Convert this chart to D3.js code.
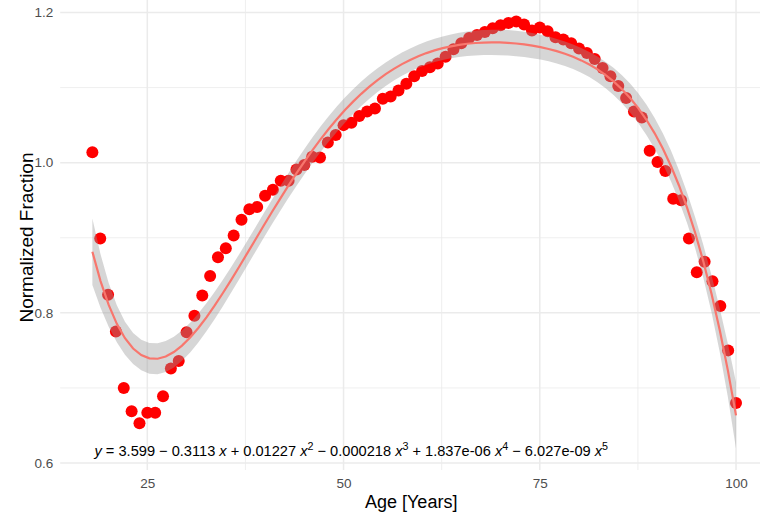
<!DOCTYPE html>
<html>
<head>
<meta charset="utf-8">
<script src="https://cdn.jsdelivr.net/npm/d3@7"></script>
<style>
  html, body { margin: 0; padding: 0; background: #ffffff; }
  svg { display: block; }
  text { font-family: "Liberation Sans", Arial, sans-serif; }
</style>
</head>
<body>
<svg id="chart" width="760" height="513"></svg>
<script>
// ---------------- data ----------------
const ages = [18,19,20,21,22,23,24,25,26,27,28,29,30,31,32,33,34,35,36,37,38,39,
  40,41,42,43,44,45,46,47,48,49,50,51,52,53,54,55,56,57,58,59,
  60,61,62,63,64,65,66,67,68,69,70,71,72,73,74,75,76,77,78,79,
  80,81,82,83,84,85,86,87,88,89,90,91,92,93,94,95,96,97,98,99,100];
const fraction = [1.014,0.899,0.824,0.775,0.700,0.669,0.653,0.667,0.667,0.689,0.726,0.736,
  0.774,0.796,0.823,0.849,0.874,0.886,0.903,0.924,0.938,0.941,
  0.956,0.964,0.976,0.976,0.991,0.997,1.008,1.007,1.027,1.037,
  1.050,1.053,1.062,1.068,1.072,1.085,1.088,1.096,1.105,1.115,
  1.122,1.127,1.132,1.141,1.151,1.159,1.166,1.170,1.174,1.179,
  1.183,1.186,1.188,1.184,1.176,1.180,1.175,1.167,1.164,1.159,
  1.152,1.146,1.138,1.126,1.115,1.102,1.086,1.068,1.060,
  1.016,1.001,0.989,0.952,0.950,0.899,0.854,0.868,0.842,0.809,0.750,0.680];
const xMajorTicks = [25, 50, 75, 100];
const xMinorTicks = [37.5, 62.5, 87.5];
const yMajorTicks = [0.6, 0.8, 1.0, 1.2];
const yMinorTicks = [0.7, 0.9, 1.1];
const yTickLabels = ["0.6", "0.8", "1.0", "1.2"];
const xTitle = "Age [Years]";
const yTitle = "Normalized Fraction";
// equation pieces: [text, italic, superscript]
const equationParts = [
  ["y", true, false], [" = 3.599 \u2212 0.3113 ", false, false], ["x", true, false],
  [" + 0.01227 ", false, false], ["x", true, false], ["2", false, true],
  [" \u2212 0.000218 ", false, false], ["x", true, false], ["3", false, true],
  [" + 1.837e-06 ", false, false], ["x", true, false], ["4", false, true],
  [" \u2212 6.027e-09 ", false, false], ["x", true, false], ["5", false, true]
];

// ---------------- layout ----------------
const W = 760, H = 513;
const panel = { left: 60.2, right: 768.2, top: 0, bottom: 470 };
const x = d3.scaleLinear().domain([13.9, 104.1]).range([panel.left, panel.right]);
const y = d3.scaleLinear().domain([0.6, 1.2]).range([463, 12.5]);

const svg = d3.select("#chart");
svg.append("defs").append("clipPath").attr("id", "clip")
  .append("rect").attr("x", panel.left).attr("y", panel.top)
  .attr("width", panel.right - panel.left).attr("height", panel.bottom - panel.top);

// grid
const grid = svg.append("g");
grid.selectAll(".ymin").data(yMinorTicks).join("line")
  .attr("x1", panel.left).attr("x2", panel.right).attr("y1", d => y(d)).attr("y2", d => y(d))
  .attr("stroke", "#EBEBEB").attr("stroke-width", 0.8);
grid.selectAll(".xmin").data(xMinorTicks).join("line")
  .attr("y1", panel.top).attr("y2", panel.bottom).attr("x1", d => x(d)).attr("x2", d => x(d))
  .attr("stroke", "#EBEBEB").attr("stroke-width", 0.8);
grid.selectAll(".ymaj").data(yMajorTicks).join("line")
  .attr("x1", panel.left).attr("x2", panel.right).attr("y1", d => y(d)).attr("y2", d => y(d))
  .attr("stroke", "#EBEBEB").attr("stroke-width", 1.5);
grid.selectAll(".xmaj").data(xMajorTicks).join("line")
  .attr("y1", panel.top).attr("y2", panel.bottom).attr("x1", d => x(d)).attr("x2", d => x(d))
  .attr("stroke", "#EBEBEB").attr("stroke-width", 1.5);

// ---------------- polynomial fit (degree 5, like lm(y ~ poly(x,5))) ----------------
const P = 6, xc = 59, xsc = 41;
const basis = a => { const t = (a - xc) / xsc; return [1, t, t*t, t**3, t**4, t**5]; };
const XtX = Array.from({length: P}, () => new Array(P).fill(0));
const Xty = new Array(P).fill(0);
ages.forEach((a, i) => {
  const r = basis(a);
  for (let j = 0; j < P; j++) {
    Xty[j] += r[j] * fraction[i];
    for (let k = 0; k < P; k++) XtX[j][k] += r[j] * r[k];
  }
});
function invert(M) {
  const n = M.length;
  const A = M.map((row, i) => row.concat(Array.from({length: n}, (_, j) => i === j ? 1 : 0)));
  for (let c = 0; c < n; c++) {
    let piv = c;
    for (let r = c + 1; r < n; r++) if (Math.abs(A[r][c]) > Math.abs(A[piv][c])) piv = r;
    [A[c], A[piv]] = [A[piv], A[c]];
    const pv = A[c][c];
    for (let k = 0; k < 2 * n; k++) A[c][k] /= pv;
    for (let r = 0; r < n; r++) if (r !== c) {
      const f = A[r][c];
      for (let k = 0; k < 2 * n; k++) A[r][k] -= f * A[c][k];
    }
  }
  return A.map(row => row.slice(n));
}
const inv = invert(XtX);
const beta = inv.map(row => row.reduce((s, v, k) => s + v * Xty[k], 0));
const predict = a => basis(a).reduce((s, v, k) => s + v * beta[k], 0);
let sse = 0;
ages.forEach((a, i) => { const e = fraction[i] - predict(a); sse += e * e; });
const sigma = Math.sqrt(sse / (ages.length - P));
const tq = 1.9913; // qt(0.975, 77)
const fitGrid = d3.range(0, 80).map(i => 18 + i * (100 - 18) / 79);
const fitData = fitGrid.map(a => {
  const r = basis(a);
  let q = 0;
  for (let j = 0; j < P; j++) for (let k = 0; k < P; k++) q += r[j] * inv[j][k] * r[k];
  const se = sigma * Math.sqrt(q);
  const f = predict(a);
  return { a, f, lo: f - tq * se, hi: f + tq * se };
});

const plot = svg.append("g").attr("clip-path", "url(#clip)");
// points
plot.selectAll("circle").data(ages).join("circle")
  .attr("cx", d => x(d)).attr("cy", (d, i) => y(fraction[i])).attr("r", 6)
  .attr("fill", "#FF0000");
// ribbon
plot.append("path").datum(fitData)
  .attr("d", d3.area().x(d => x(d.a)).y0(d => y(d.lo)).y1(d => y(d.hi)))
  .attr("fill", "#999999").attr("fill-opacity", 0.4);
// line
plot.append("path").datum(fitData)
  .attr("d", d3.line().x(d => x(d.a)).y(d => y(d.f)))
  .attr("fill", "none").attr("stroke", "#F8766D").attr("stroke-width", 2.2);

// equation
const eq = svg.append("text").attr("x", 94.5).attr("y", 455.5)
  .attr("font-size", 15).attr("fill", "#000000");
let raised = false;
equationParts.forEach(([t, it, sup]) => {
  const ts = eq.append("tspan").text(t);
  if (it) ts.attr("font-style", "italic");
  if (sup) { ts.attr("font-size", 11).attr("dy", -6); raised = true; }
  else if (raised) { ts.attr("dy", 6); raised = false; }
});
const eqW = eq.node().getComputedTextLength();
const target = 514;
if (eqW > 0) {
  const s = target / eqW;
  eq.attr("font-size", 15 * s);
  eq.selectAll("tspan").each(function() {
    const el = d3.select(this);
    if (el.attr("font-size")) el.attr("font-size", 11 * s);
    if (el.attr("dy")) el.attr("dy", +el.attr("dy") * s);
  });
}

// axes
const xAxis = svg.append("g").attr("transform", `translate(0,${panel.bottom})`)
  .call(d3.axisBottom(x).tickValues(xMajorTicks).tickSize(0).tickPadding(8.4).tickFormat(d3.format("d")));
xAxis.select(".domain").remove();
xAxis.selectAll("text").attr("font-size", 13.5).attr("fill", "#4D4D4D")
  .attr("font-family", "Liberation Sans, Arial, sans-serif");

const yAxis = svg.append("g").attr("transform", `translate(${panel.left},0)`)
  .call(d3.axisLeft(y).tickValues(yMajorTicks).tickSize(0).tickPadding(7)
    .tickFormat((d, i) => yTickLabels[i]));
yAxis.select(".domain").remove();
yAxis.selectAll("text").attr("font-size", 13.5).attr("fill", "#4D4D4D")
  .attr("font-family", "Liberation Sans, Arial, sans-serif");

// titles
svg.append("text").attr("x", (panel.left + panel.right) / 2 - 3).attr("y", 507.5)
  .attr("text-anchor", "middle").attr("font-size", 18).attr("fill", "#000000").text(xTitle);
svg.append("text").attr("transform", "translate(32.5,237.5) rotate(-90)")
  .attr("text-anchor", "middle").attr("font-size", 19).attr("fill", "#000000").text(yTitle);
</script>
</body>
</html>
